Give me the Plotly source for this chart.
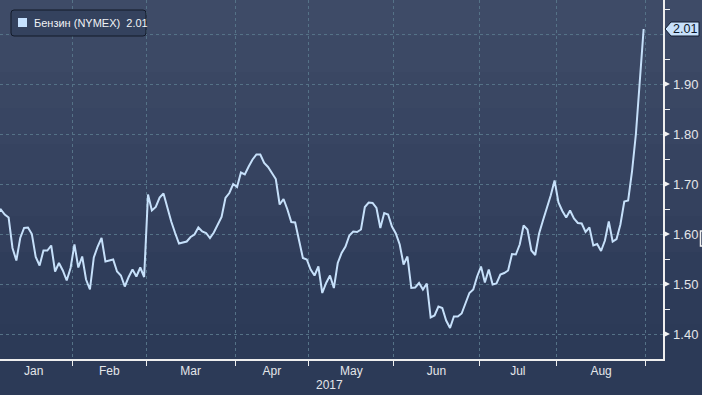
import plotly.graph_objects as go

# ---- data (trading days, 3 Jan 2017 .. 31 Aug 2017) ----
series_name = "Бензин (NYMEX)"
values = [
    1.640, 1.649, 1.639, 1.633, 1.572, 1.547, 1.592, 1.612, 1.613, 1.600,
    1.554, 1.537, 1.567, 1.567, 1.577, 1.525, 1.542, 1.527, 1.507, 1.532,
    1.579, 1.533, 1.555, 1.509, 1.489, 1.553, 1.575, 1.592, 1.545, 1.547,
    1.549, 1.525, 1.517, 1.495, 1.514, 1.529, 1.515, 1.533, 1.514, 1.679,
    1.647, 1.654, 1.673, 1.681, 1.652, 1.625, 1.602, 1.581, 1.583, 1.585,
    1.594, 1.599, 1.613, 1.605, 1.602, 1.592, 1.603, 1.620, 1.634, 1.672,
    1.682, 1.700, 1.694, 1.723, 1.719, 1.735, 1.749, 1.759, 1.759, 1.742,
    1.734, 1.722, 1.710, 1.659, 1.670, 1.649, 1.624, 1.623, 1.589, 1.552,
    1.549, 1.529, 1.517, 1.535, 1.482, 1.502, 1.517, 1.492, 1.542, 1.562,
    1.575, 1.597, 1.605, 1.604, 1.609, 1.654, 1.663, 1.662, 1.652, 1.612,
    1.642, 1.639, 1.615, 1.601, 1.579, 1.539, 1.555, 1.492, 1.493, 1.502,
    1.489, 1.501, 1.433, 1.437, 1.455, 1.452, 1.427, 1.412, 1.435, 1.435,
    1.441, 1.462, 1.482, 1.489, 1.515, 1.535, 1.503, 1.529, 1.499, 1.501,
    1.519, 1.522, 1.527, 1.560, 1.559, 1.579, 1.617, 1.609, 1.567, 1.558,
    1.601, 1.627, 1.651, 1.677, 1.707, 1.663, 1.646, 1.633, 1.647, 1.631,
    1.622, 1.621, 1.604, 1.613, 1.577, 1.580, 1.566, 1.587, 1.625, 1.585,
    1.590, 1.619, 1.665, 1.667, 1.725, 1.800, 1.905, 2.010,
]
months = ["Jan", "Feb", "Mar", "Apr", "May", "Jun", "Jul", "Aug"]
trading_days_per_month = [20, 19, 23, 19, 22, 22, 20, 23]
year_label = "2017"
y_tick_values = [1.40, 1.50, 1.60, 1.70, 1.80, 1.90, 2.00]
y_tick_labels = ["1.40", "1.50", "1.60", "1.70", "1.80", "1.90", ""]
last_label = "2.01"

x = list(range(len(values)))

# month boundaries / midpoints in trading-day index units
bounds = [-0.5]
for n in trading_days_per_month:
    bounds.append(bounds[-1] + n)
mids = [(bounds[k] + bounds[k + 1]) / 2 for k in range(len(months))]

# ---- layout geometry ----
W, H = 702, 395
PW, PH = 663, 359  # plot area size in px (margins l=0,t=0)


def px(v):
    return v / PW


def py(v):
    return 1 - v / PH


FONT = "Liberation Sans, Arial, sans-serif"
TXT = "#e4e6ea"
LINE = "#c6e0fa"
GRID = "#557287"

fig = go.Figure()
fig.add_trace(go.Scatter(
    x=x, y=values, mode="lines", name=series_name,
    line=dict(color=LINE, width=2), showlegend=False, hoverinfo="skip",
))

shapes = []
# background gradient bands (whole figure)
top_c = (63, 76, 104)
bot_c = (44, 58, 87)
nb = 11
for k in range(nb):
    y0 = k * 36
    y1 = min(H, (k + 1) * 36)
    t = min(1.0, (k + 0.5) * 36 / 330)
    c = tuple(int(round(top_c[j] + (bot_c[j] - top_c[j]) * t)) for j in range(3))
    shapes.append(dict(type="rect", xref="paper", yref="paper",
                       x0=px(0), x1=px(W), y0=py(y1), y1=py(y0),
                       fillcolor="rgb(%d,%d,%d)" % c, line=dict(width=0), layer="below"))

# right-axis triangle ticks
for v in y_tick_values[:-1]:
    shapes.append(dict(type="path", xref="paper", yref="y",
                       path=f"M {px(663)},{v + 0.007} L {px(670)},{v} L {px(663)},{v - 0.007} Z",
                       fillcolor="#f2f2f2", line=dict(width=0)))

# last value tag
lv = values[-1]
hh = 0.014
shapes.append(dict(type="path", xref="paper", yref="y",
                   path=(f"M {px(665)},{lv} L {px(671)},{lv + hh} L {px(699)},{lv + hh} "
                         f"L {px(699)},{lv - hh} L {px(671)},{lv - hh} Z"),
                   fillcolor="#c8e1fb", line=dict(color="#101b2e", width=1)))

# legend box (rounded)
x0, y0, x1, y1, r = 11, 10, 146, 36, 3
path = (f"M {px(x0 + r)},{py(y0)} L {px(x1 - r)},{py(y0)} Q {px(x1)},{py(y0)} {px(x1)},{py(y0 + r)} "
        f"L {px(x1)},{py(y1 - r)} Q {px(x1)},{py(y1)} {px(x1 - r)},{py(y1)} "
        f"L {px(x0 + r)},{py(y1)} Q {px(x0)},{py(y1)} {px(x0)},{py(y1 - r)} "
        f"L {px(x0)},{py(y0 + r)} Q {px(x0)},{py(y0)} {px(x0 + r)},{py(y0)} Z")
shapes.append(dict(type="path", xref="paper", yref="paper", path=path,
                   fillcolor="#34425e", line=dict(color="#121a29", width=1)))
shapes.append(dict(type="rect", xref="paper", yref="paper",
                   x0=px(18), x1=px(27), y0=py(27), y1=py(18),
                   fillcolor="#c6e2ff", line=dict(width=0)))

# small bracket at right edge
shapes.append(dict(type="path", xref="paper", yref="paper",
                   path=f"M {px(703)},{py(231)} L {px(700.5)},{py(231)} L {px(700.5)},{py(246)} L {px(703)},{py(246)}",
                   line=dict(color="#f0f0f0", width=1.5)))

annotations = [
    dict(xref="paper", yref="paper", x=px(32), y=py(23), xanchor="left", yanchor="middle",
         text=f"{series_name}  {last_label}", showarrow=False,
         font=dict(family=FONT, size=11, color="#f0f2f5")),
    dict(xref="paper", yref="y", x=px(685), y=lv, xanchor="center", yanchor="middle",
         text=last_label, showarrow=False,
         font=dict(family=FONT, size=12.5, color="#0c172b")),
    dict(xref="paper", yref="paper", x=px(329), y=py(385), xanchor="center", yanchor="middle",
         text=year_label, showarrow=False, font=dict(family=FONT, size=12, color=TXT)),
]

fig.update_layout(
    width=W, height=H,
    margin=dict(l=0, r=W - PW, t=0, b=H - PH, autoexpand=False),
    paper_bgcolor="rgb(44,58,87)", plot_bgcolor="rgba(0,0,0,0)",
    shapes=shapes, annotations=annotations, showlegend=False,
    xaxis=dict(
        range=[0.775, 172.0], showgrid=False, zeroline=False, automargin=False,
        tickmode="array", tickvals=mids, ticktext=months, ticks="", ticklen=0,
        tickfont=dict(family=FONT, size=12, color=TXT), ticklabelstandoff=0,
        showline=True, linecolor="#eeeeee", linewidth=1.5,
        minor=dict(tickmode="array", tickvals=bounds[1:], ticks="outside", ticklen=5,
                   tickcolor="#eeeeee", tickwidth=1, showgrid=True,
                   gridcolor=GRID, griddash="dot", gridwidth=1),
    ),
    yaxis=dict(
        range=[1.35, 2.068], side="right", zeroline=False, automargin=False,
        tickmode="array", tickvals=y_tick_values, ticktext=y_tick_labels, ticks="", ticklen=0,
        ticklabelstandoff=6, tickfont=dict(family=FONT, size=13, color=TXT),
        showgrid=True, gridcolor=GRID, griddash="dot", gridwidth=1,
        showline=True, linecolor="#eeeeee", linewidth=1.5,
        minor=dict(tickmode="array", tickvals=[1.45, 1.55, 1.65, 1.75, 1.85, 1.95, 2.05],
                   ticks="outside", ticklen=5, tickcolor="#eeeeee", tickwidth=1, showgrid=False),
    ),
)

fig.write_html(
    "out.html",
    config={"displayModeBar": False, "staticPlot": True},
    post_script="document.body.style.margin='0';document.body.style.overflow='hidden';",
)
